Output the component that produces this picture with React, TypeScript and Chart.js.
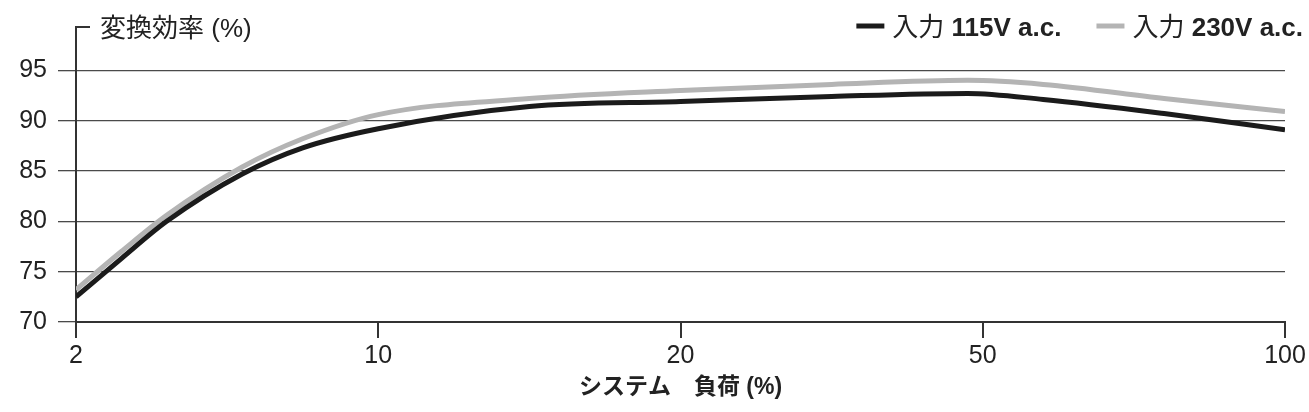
import React, { useEffect, useRef } from 'react';
import Chart from 'chart.js/auto';

// axis positions 0..4 are the evenly spaced load ticks 2, 10, 20, 50, 100
const loadTickLabels = ['2', '10', '20', '50', '100'];
const loadTickPos = [0, 1, 2, 3, 4];
const effTicks = [70, 75, 80, 85, 90, 95];

const samplePos = [0, 0.15, 0.3, 0.55, 0.75, 1, 1.5, 2, 2.5, 2.95, 3.2, 3.6, 4];
const eff115 = [72.5, 76.3, 80.0, 84.7, 87.3, 89.2, 91.4, 91.9, 92.4, 92.7, 92.1, 90.7, 89.1];
const eff230 = [73.2, 77.0, 80.6, 85.4, 88.2, 90.6, 92.2, 93.0, 93.6, 94.0, 93.6, 92.2, 90.9];

const seriesLabels = [
  { pre: '入力 ', main: '115V a.c.' },
  { pre: '入力 ', main: '230V a.c.' },
];
const yTitle = '変換効率 (%)';
const xTitle = 'システム　負荷 (%)';

const FONT = '"Liberation Sans", "Noto Sans CJK JP", Arial, sans-serif';
const TEXT = '#222';
const AXIS = '#333';
const GRID = '#4a4a4a';
const BLACK = '#1b1b1b';
const GRAY = '#b4b4b4';

const overlay = {
  id: 'overlay',
  afterDraw(chart: any) {
    const { ctx, chartArea } = chart;
    ctx.save();
    // short cap on the top of the y axis
    ctx.strokeStyle = AXIS;
    ctx.lineWidth = 2;
    ctx.beginPath();
    ctx.moveTo(chartArea.left, chartArea.top);
    ctx.lineTo(chartArea.left + 14, chartArea.top);
    ctx.stroke();

    ctx.fillStyle = TEXT;
    ctx.textBaseline = 'middle';
    ctx.font = `26px ${FONT}`;
    ctx.fillText(yTitle, chartArea.left + 24, chartArea.top + 3);

    // legend, right aligned
    const colors = [BLACK, GRAY];
    const swatch = 28;
    const gap = 8;
    const itemGap = 35;
    const widths = seriesLabels.map((s) => {
      ctx.font = `26px ${FONT}`;
      const a = ctx.measureText(s.pre).width;
      ctx.font = `bold 26px ${FONT}`;
      const b = ctx.measureText(s.main).width;
      return { a, b };
    });
    let total = 0;
    widths.forEach((w, i) => {
      total += swatch + gap + w.a + w.b + (i > 0 ? itemGap : 0);
    });
    let x = 1303 - total;
    const y = 29;
    seriesLabels.forEach((s, i) => {
      if (i > 0) x += itemGap;
      ctx.strokeStyle = colors[i];
      ctx.lineWidth = 5;
      ctx.beginPath();
      ctx.moveTo(x, y - 3);
      ctx.lineTo(x + swatch, y - 3);
      ctx.stroke();
      x += swatch + gap;
      ctx.fillStyle = TEXT;
      ctx.font = `26px ${FONT}`;
      ctx.fillText(s.pre, x, y);
      x += widths[i].a;
      ctx.font = `bold 26px ${FONT}`;
      ctx.fillText(s.main, x, y);
      x += widths[i].b;
    });
    ctx.restore();
  },
};

const App: React.FC = () => {
  const chartRef = useRef<HTMLCanvasElement | null>(null);
  const chartInstanceRef = useRef<Chart | null>(null);

  useEffect(() => {
    if (!chartRef.current) return;
    const ctx = chartRef.current.getContext('2d');
    if (!ctx) return;

    chartInstanceRef.current = new Chart(ctx, {
      type: 'line',
      data: {
        datasets: [
          {
            label: '入力 115V a.c.',
            data: samplePos.map((p, i) => ({ x: p, y: eff115[i] })),
            borderColor: BLACK,
            borderWidth: 5,
            pointRadius: 0,
            cubicInterpolationMode: 'monotone',
            fill: false,
            order: 1,
          },
          {
            label: '入力 230V a.c.',
            data: samplePos.map((p, i) => ({ x: p, y: eff230[i] })),
            borderColor: GRAY,
            borderWidth: 5,
            pointRadius: 0,
            cubicInterpolationMode: 'monotone',
            fill: false,
            order: 2,
          },
        ],
      },
      options: {
        animation: false,
        responsive: false,
        maintainAspectRatio: false,
        layout: { padding: { top: 27, right: 24, left: 0, bottom: 0 } },
        plugins: {
          legend: { display: false },
          tooltip: { enabled: false },
        },
        scales: {
          x: {
            type: 'linear',
            min: 0,
            max: 4,
            afterBuildTicks: (scale: any) => {
              scale.ticks = loadTickPos.map((v) => ({ value: v }));
            },
            afterFit: (scale: any) => {
              scale.height = 90;
            },
            ticks: {
              callback: (v: any) => loadTickLabels[Number(v)] ?? '',
              color: TEXT,
              font: { family: FONT, size: 25 },
              padding: 3,
              maxRotation: 0,
            },
            grid: {
              drawOnChartArea: false,
              drawTicks: true,
              tickLength: 16,
              color: AXIS,
              lineWidth: 2,
            },
            border: { color: AXIS, width: 2 },
            title: {
              display: true,
              text: xTitle,
              color: TEXT,
              font: { family: FONT, size: 23, weight: 'bold' },
              padding: { top: 0, bottom: 11 },
            },
          },
          y: {
            type: 'linear',
            min: 70,
            max: 99.3,
            afterBuildTicks: (scale: any) => {
              scale.ticks = effTicks.map((v) => ({ value: v }));
            },
            afterFit: (scale: any) => {
              scale.width = 76;
            },
            ticks: {
              color: TEXT,
              font: { family: FONT, size: 25 },
              padding: 11,
            },
            grid: {
              color: GRID,
              lineWidth: 1.3,
              tickLength: 18,
            },
            border: { color: AXIS, width: 2 },
          },
        },
      },
      plugins: [overlay],
    } as any);

    return () => {
      if (chartInstanceRef.current) {
        chartInstanceRef.current.destroy();
        chartInstanceRef.current = null;
      }
    };
  }, []);

  return (
    <div style={{ position: 'absolute', left: 0, top: 0, width: 1309, height: 412, background: '#fff' }}>
      <canvas ref={chartRef} width={1309} height={412} style={{ width: 1309, height: 412 }} />
    </div>
  );
};

export default App;
